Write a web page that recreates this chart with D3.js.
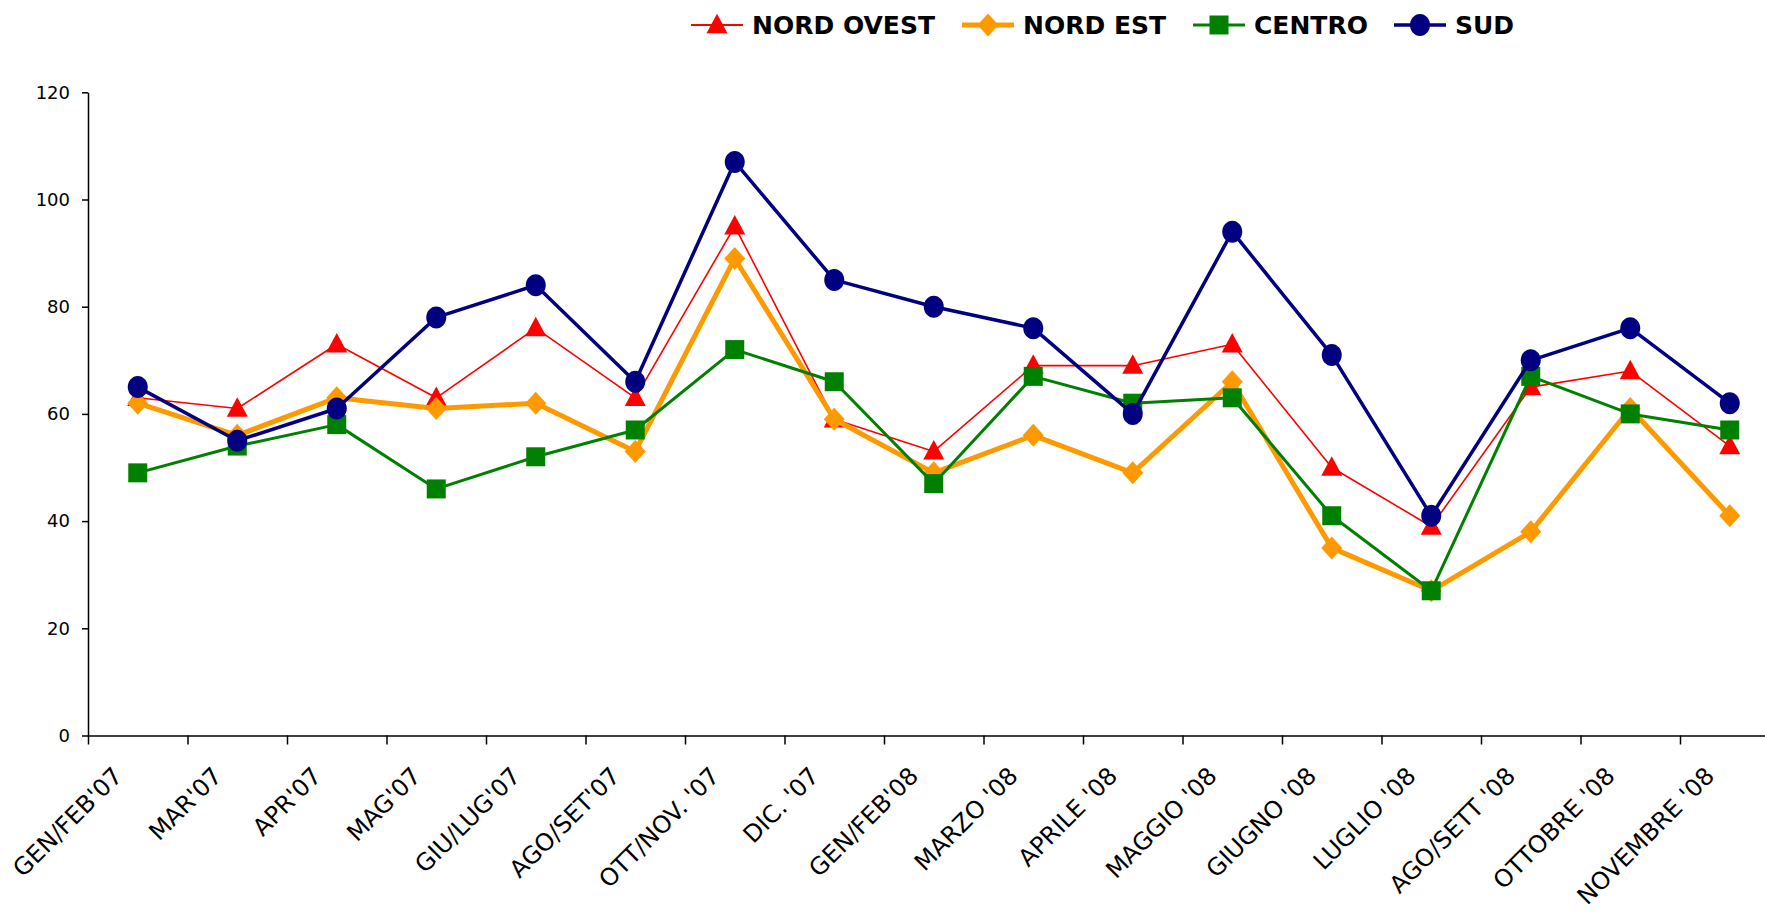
<!DOCTYPE html>
<html>
<head>
<meta charset="utf-8">
<script src="https://cdn.jsdelivr.net/npm/d3@7"></script>
<style>
  body { margin: 0; background: #fff; }
  svg { display: block; }
</style>
</head>
<body>
<div id="chart"></div>
<script>
var categories = ["GEN/FEB'07", "MAR'07", "APR'07", "MAG'07", "GIU/LUG'07", "AGO/SET'07",
  "OTT/NOV. '07", "DIC. '07", "GEN/FEB'08", "MARZO '08", "APRILE '08", "MAGGIO '08",
  "GIUGNO '08", "LUGLIO '08", "AGO/SETT '08", "OTTOBRE '08", "NOVEMBRE '08"];

var nordOvest = [63, 61, 73, 63, 76, 63, 95, 59, 53, 69, 69, 73, 50, 39, 65, 68, 54];
var nordEst   = [62, 56, 63, 61, 62, 53, 89, 59, 49, 56, 49, 66, 35, 27, 38, 61, 41];
var centro    = [49, 54, 58, 46, 52, 57, 72, 66, 47, 67, 62, 63, 41, 27, 67, 60, 57];
var sud       = [65, 55, 61, 78, 84, 66, 107, 85, 80, 76, 60, 94, 71, 41, 70, 76, 62];

var seriesNames = ["NORD OVEST", "NORD EST", "CENTRO", "SUD"];
var yTicks = [0, 20, 40, 60, 80, 100, 120];

(function () {
  var width = 1765, height = 914;
  var left = 88, bottom = 735.5, top = 92.3, band = 99.5;

  var svg = d3.select("#chart").append("svg")
    .attr("width", width)
    .attr("height", height);

  var x = d3.scaleBand()
    .domain(categories)
    .range([left, left + band * categories.length]);

  // edges of the categories, for the tick marks between them
  var xEdge = d3.scaleLinear()
    .domain([0, categories.length])
    .range([left, left + band * categories.length]);

  var y = d3.scaleLinear()
    .domain([0, 120])
    .range([bottom, top]);

  // marker shapes
  var diamond = {
    draw: function (ctx) {
      var w = 10.5, h = 11.5;
      ctx.moveTo(0, -h); ctx.lineTo(w, 0); ctx.lineTo(0, h); ctx.lineTo(-w, 0); ctx.closePath();
    }
  };
  var triangle = {
    draw: function (ctx) {
      var w = 10.5, h = 19.5;
      ctx.moveTo(0, -h * 0.58); ctx.lineTo(w, h * 0.42); ctx.lineTo(-w, h * 0.42); ctx.closePath();
    }
  };
  var square = {
    draw: function (ctx) {
      var s = 9.5;
      ctx.rect(-s, -s, 2 * s, 2 * s);
    }
  };
  var ellipse = {
    draw: function (ctx) {
      var rx = 10, ry = 11, k = 0.5523;
      ctx.moveTo(rx, 0);
      ctx.bezierCurveTo(rx, ry * k, rx * k, ry, 0, ry);
      ctx.bezierCurveTo(-rx * k, ry, -rx, ry * k, -rx, 0);
      ctx.bezierCurveTo(-rx, -ry * k, -rx * k, -ry, 0, -ry);
      ctx.bezierCurveTo(rx * k, -ry, rx, -ry * k, rx, 0);
      ctx.closePath();
    }
  };

  var series = [
    { name: seriesNames[0], values: nordOvest, color: "#ff0000", lw: 1.6, shape: triangle },
    { name: seriesNames[1], values: nordEst, color: "#ff9900", lw: 5, shape: diamond },
    { name: seriesNames[2], values: centro, color: "#008000", lw: 3, shape: square },
    { name: seriesNames[3], values: sud, color: "#000080", lw: 3.5, shape: ellipse }
  ];

  // axes
  var yAxis = svg.append("g")
    .attr("transform", "translate(" + left + ",0)")
    .call(d3.axisLeft(y).tickValues(yTicks).tickSize(6).tickPadding(12).tickSizeOuter(0));
  yAxis.select(".domain").attr("stroke", "#000").attr("stroke-width", 1.5);
  yAxis.selectAll(".tick line").attr("stroke", "#000").attr("stroke-width", 1.5);
  yAxis.selectAll("text")
    .style("font-family", "'DejaVu Sans', Verdana, sans-serif")
    .style("font-size", "18px")
    .attr("fill", "#000");

  var xAxis = svg.append("g")
    .attr("transform", "translate(0," + bottom + ")")
    .call(d3.axisBottom(xEdge).tickValues(d3.range(0, categories.length + 1))
      .tickSize(9).tickSizeOuter(0).tickFormat(""));
  xAxis.select(".domain").attr("stroke", "#000").attr("stroke-width", 1.5);
  xAxis.selectAll(".tick line").attr("stroke", "#000").attr("stroke-width", 1.5);

  svg.append("g").selectAll("text")
    .data(categories)
    .enter().append("text")
    .attr("transform", function (d) {
      return "translate(" + (x(d) + x.bandwidth() / 2 - 14) + "," + (bottom + 42) + ") rotate(-45)";
    })
    .attr("text-anchor", "end")
    .style("font-family", "'DejaVu Sans', Verdana, sans-serif")
    .style("font-size", "24px")
    .attr("fill", "#000")
    .text(function (d) { return d; });

  // series, drawn in order so SUD sits on top
  var line = d3.line()
    .x(function (d, i) { return x(categories[i]) + x.bandwidth() / 2; })
    .y(function (d) { return y(d); });

  series.forEach(function (s) {
    var g = svg.append("g");
    g.append("path")
      .datum(s.values)
      .attr("fill", "none")
      .attr("stroke", s.color)
      .attr("stroke-width", s.lw)
      .attr("stroke-linejoin", "round")
      .attr("d", line);
    g.selectAll(".pt")
      .data(s.values)
      .enter().append("path")
      .attr("class", "pt")
      .attr("transform", function (d, i) {
        return "translate(" + (x(categories[i]) + x.bandwidth() / 2) + "," + y(d) + ")";
      })
      .attr("d", d3.symbol().type(s.shape))
      .attr("fill", s.color);
  });

  // legend
  var legendX = [691, 962, 1193, 1394];
  var legend = svg.append("g");
  series.forEach(function (s, i) {
    var lg = legend.append("g").attr("transform", "translate(" + legendX[i] + ",25)");
    lg.append("line")
      .attr("x1", 0).attr("x2", 52)
      .attr("stroke", s.color)
      .attr("stroke-width", Math.max(s.lw, 2));
    lg.append("path")
      .attr("transform", "translate(26,0)")
      .attr("d", d3.symbol().type(s.shape))
      .attr("fill", s.color);
    lg.append("text")
      .attr("x", 61)
      .attr("dy", "0.36em")
      .style("font-family", "'DejaVu Sans', Verdana, sans-serif")
      .style("font-weight", "bold")
      .style("font-size", "25px")
      .attr("fill", "#000")
      .text(s.name);
  });
})();
</script>
</body>
</html>
